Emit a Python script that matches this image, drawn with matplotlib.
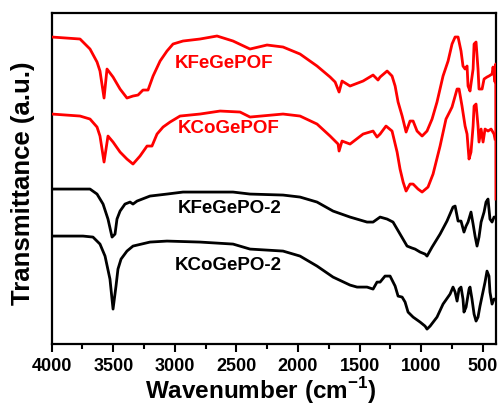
import matplotlib
matplotlib.use("Agg")
import matplotlib.pyplot as plt
from matplotlib.ticker import MultipleLocator

# FT-IR spectra, transmittance in arbitrary units (offset traces)
wn_fe_f = [4000, 3770, 3689, 3632, 3608, 3575, 3551, 3502, 3445, 3389, 3340, 3299, 3259, 3218,
           3177, 3120, 3064, 3015, 2934, 2796, 2658, 2528, 2390, 2252, 2122, 1984, 1846, 1740,
           1699, 1667, 1643, 1578, 1472, 1391, 1351, 1334, 1277, 1237, 1212, 1188, 1155, 1123,
           1091, 1066, 1034, 993, 953, 912, 872, 823, 782, 750, 725, 701, 677, 661, 644, 628,
           620, 604, 579, 571, 555, 539, 531, 506, 490, 466, 450, 425, 417, 401, 395, 393]
t_fe_f = [307, 305, 295, 282, 273, 246, 275, 267, 255, 246, 248, 249, 254, 254,
          268, 283, 293, 300, 303, 305, 308, 303, 295, 299, 297, 290, 278, 267,
          262, 252, 263, 258, 263, 269, 264, 267, 273, 268, 258, 242, 228, 212,
          223, 223, 213, 208, 213, 225, 242, 268, 283, 300, 307, 307, 293, 278, 275, 278,
          258, 253, 275, 300, 302, 275, 255, 255, 265, 267, 268, 270, 277, 262, 280, 145]

wn_co_f = [4000, 3770, 3689, 3632, 3608, 3575, 3543, 3502, 3445, 3389, 3340, 3283, 3226, 3186,
           3145, 3096, 3039, 2958, 2796, 2633, 2471, 2390, 2122, 1984, 1846, 1740, 1675, 1667,
           1643, 1578, 1472, 1391, 1359, 1334, 1286, 1237, 1196, 1172, 1147, 1123, 1091, 1066,
           1026, 993, 945, 904, 847, 799, 766, 750, 709, 693, 669, 644, 628, 612, 596, 579,
           571, 555, 539, 531, 514, 498, 482, 458, 433, 409, 401]
t_co_f = [230, 228, 225, 217, 208, 182, 208, 202, 192, 185, 180, 188, 198, 198,
          210, 217, 222, 228, 230, 233, 232, 227, 230, 228, 220, 208, 200, 193,
          203, 200, 210, 213, 207, 210, 218, 213, 192, 175, 162, 153, 160, 160,
          155, 152, 157, 170, 198, 225, 233, 237, 255, 255, 238, 218, 210, 185, 192, 218,
          238, 240, 218, 202, 215, 202, 215, 213, 215, 210, 205]

wn_fe_2 = [4000, 3689, 3632, 3583, 3543, 3510, 3486, 3470, 3445, 3405, 3364, 3340, 3307, 3202,
           3064, 2934, 2796, 2528, 2390, 2122, 1984, 1846, 1716, 1578, 1440, 1391, 1334, 1277,
           1229, 1172, 1115, 1074, 1050, 1009, 969, 953, 912, 847, 791, 742, 725, 701, 677,
           653, 636, 620, 596, 579, 563, 547, 531, 514, 490, 474, 458, 442, 425, 409, 393]
t_fe_2 = [155, 155, 150, 140, 125, 107, 110, 125, 133, 140, 142, 140, 143, 148,
          150, 152, 152, 152, 150, 149, 147, 142, 133, 127, 122, 122, 127, 125,
          122, 110, 98, 96, 95, 92, 90, 88, 97, 110, 123, 137, 138, 123, 123,
          112, 118, 122, 132, 120, 108, 98, 107, 122, 132, 142, 145, 125, 122, 127, 127]

wn_co_2 = [4000, 3746, 3665, 3608, 3567, 3527, 3502, 3478, 3462, 3437, 3389, 3340, 3202, 3064,
           2796, 2528, 2390, 2122, 1984, 1846, 1716, 1578, 1521, 1440, 1391, 1359, 1334, 1294,
           1253, 1212, 1188, 1155, 1131, 1107, 1066, 1009, 969, 953, 928, 872, 823, 766,
           742, 725, 709, 693, 677, 661, 653, 636, 612, 604, 588, 571, 555, 539, 523, 506,
           482, 466, 450, 442, 425, 409, 393]
t_co_2 = [108, 108, 107, 100, 88, 65, 35, 58, 75, 85, 93, 98, 102, 103,
          102, 100, 95, 93, 88, 78, 67, 59, 57, 57, 55, 62, 62, 68,
          68, 58, 48, 47, 42, 32, 27, 22, 18, 15, 18, 27, 40, 50,
          57, 52, 43, 55, 57, 45, 32, 37, 55, 57, 45, 30, 23, 27, 38, 48,
          62, 73, 68, 52, 40, 45, 45]

plt.rcParams['font.family'] = ['Liberation Sans', 'DejaVu Sans']
plt.rcParams['font.weight'] = 'bold'
plt.rcParams['mathtext.fontset'] = 'custom'
plt.rcParams['mathtext.rm'] = 'Liberation Sans'
plt.rcParams['mathtext.bf'] = 'Liberation Sans:bold'

fig, ax = plt.subplots(figsize=(4.99, 4.06), dpi=100)
fig.subplots_adjust(left=0.1036, right=0.994, bottom=0.150, top=0.9655)

ax.plot(wn_fe_f, t_fe_f, color='red', lw=2, zorder=3)
ax.plot(wn_co_f, t_co_f, color='red', lw=2, zorder=3)
ax.plot(wn_fe_2, t_fe_2, color='black', lw=2, zorder=3)
ax.plot(wn_co_2, t_co_2, color='black', lw=2, zorder=3)

# sample names
ax.text(3000, 282, 'KFeGePOF', color='red', fontsize=13.5, fontweight='bold', va='center')
ax.text(2980, 217, 'KCoGePOF', color='red', fontsize=13.5, fontweight='bold', va='center')
ax.text(2980, 137, 'KFeGePO-2', color='black', fontsize=13.5, fontweight='bold', va='center')
ax.text(3000, 80, 'KCoGePO-2', color='black', fontsize=13.5, fontweight='bold', va='center')

ax.set_xlim(4000, 393)
ax.set_ylim(0, 331)
ax.xaxis.set_major_locator(MultipleLocator(500))
ax.xaxis.set_minor_locator(MultipleLocator(250))
ax.set_yticks([])
ax.tick_params(axis='x', which='major', direction='out', length=6, width=1.5,
               labelsize=13, pad=3)
ax.tick_params(axis='x', which='minor', direction='out', length=3.5, width=1.5)
for lab in ax.get_xticklabels():
    lab.set_fontweight('bold')
for s in ax.spines.values():
    s.set_linewidth(1.6)

ax.set_xlabel(r'Wavenumber (cm$^{\mathbf{-1}}$)', fontsize=17.5, fontweight='bold')
ax.set_ylabel('Transmittance (a.u.)', fontsize=18.5, fontweight='bold')
ax.xaxis.set_label_coords(0.471, -0.09)
ax.yaxis.set_label_coords(-0.038, 0.49)

fig.savefig('out.png', dpi=100)
